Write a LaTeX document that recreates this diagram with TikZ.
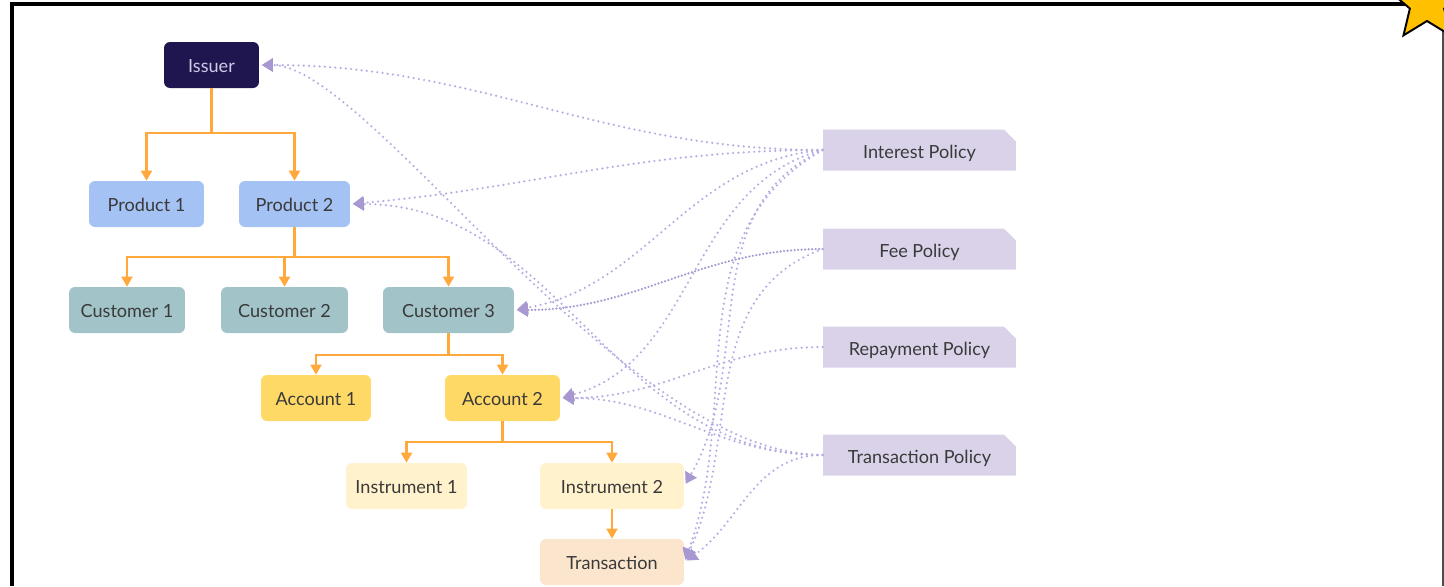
\documentclass[tikz,border=0pt]{standalone}
\usepackage{fontspec}
\setmainfont{Lato}
\usetikzlibrary{arrows.meta,shapes.misc}

\definecolor{issuerc}{HTML}{1F1650}
\definecolor{issuertxt}{HTML}{CFCAE6}
\definecolor{productc}{HTML}{A4C2F4}
\definecolor{customerc}{HTML}{A2C4C9}
\definecolor{accountc}{HTML}{FFD966}
\definecolor{instrc}{HTML}{FFF2CC}
\definecolor{transc}{HTML}{FCE5CD}
\definecolor{policyc}{HTML}{D9D2E9}
\definecolor{txt}{HTML}{3A3A3A}
\definecolor{treec}{HTML}{FFA83C}
\definecolor{linkc}{HTML}{B8ADE2}
\definecolor{linktip}{HTML}{A898D2}
\definecolor{starc}{HTML}{FFC000}

\begin{document}
\begin{tikzpicture}[x=0.02cm,y=0.02cm,
  box/.style={rounded corners=0.12cm, minimum height=0.92cm, inner sep=0pt,
    text height=8.4pt, text depth=0pt,
    font=\fontsize{10.3}{12}\selectfont, text=txt},
  issuerbox/.style={box, fill=issuerc, text=issuertxt, minimum width=1.9cm},
  productbox/.style={box, fill=productc},
  customerbox/.style={box, fill=customerc},
  accountbox/.style={box, fill=accountc},
  instrbox/.style={box, fill=instrc},
  transbox/.style={box, fill=transc},
  policybox/.style={chamfered rectangle, chamfered rectangle corners=north east,
    chamfered rectangle xsep=0.12cm, chamfered rectangle ysep=0.12cm,
    fill=policyc, minimum width=3.86cm, minimum height=0.82cm, inner sep=0pt,
    text height=9.4pt, text depth=0pt,
    font=\fontsize{10.3}{12}\selectfont, text=txt},
  tree/.style={draw=treec, line width=1.15pt,
    -{Triangle[length=0.2cm,width=0.22cm]}},
  link/.style={draw=linkc, line width=1.4pt, line cap=round,
    dash pattern=on 0pt off 3pt, shorten >=0.05cm,
    -{Triangle[length=0.22cm,width=0.26cm,fill=linktip,color=linktip]}},
  linkdense/.style={link, dash pattern=on 0pt off 2pt, draw=linktip},
]
\useasboundingbox (0,0) rectangle (1444,-586);

% frame
\draw[line width=2.5pt] (12,-586) -- (12,-4) -- (1420,-4);
\draw[line width=1.2pt, draw=black!70] (1443,-4) -- (1443,-586);
\draw[fill=starc, line width=1.1pt, shift={(1427,-3)}]
  (90:40) -- (126:18) -- (162:40) -- (198:18) -- (234:40) -- (270:18)
  -- (306:40) -- (342:18) -- (18:40) -- (54:18) -- cycle;

% hierarchy
\node[issuerbox] (issuer) at (211.5,-65) {Issuer};
\node[productbox, minimum width=2.3cm] (p1) at (146.5,-204) {Product 1};
\node[productbox, minimum width=2.22cm] (p2) at (294.5,-204) {Product 2};
\node[customerbox, minimum width=2.32cm] (c1) at (127,-310) {Customer 1};
\node[customerbox, minimum width=2.54cm] (c2) at (284.5,-310) {Customer 2};
\node[customerbox, minimum width=2.62cm] (c3) at (448.5,-310) {Customer 3};
\node[accountbox, minimum width=2.2cm] (a1) at (316,-398) {Account 1};
\node[accountbox, minimum width=2.3cm] (a2) at (502.5,-398) {Account 2};
\node[instrbox, minimum width=2.42cm] (i1) at (406.5,-486) {Instrument 1};
\node[instrbox, minimum width=2.88cm] (i2) at (612,-486) {Instrument 2};
\node[transbox, minimum width=2.88cm] (tx) at (612,-562) {Transaction};

% policies
\node[policybox] (ip) at (919.5,-150) {Interest Policy};
\node[policybox] (fp) at (919.5,-249) {Fee Policy};
\node[policybox] (rp) at (919.5,-347) {Repayment Policy};
\node[policybox] (tp) at (919.5,-455) {Transaction Policy};

% tree connectors
\draw[tree] (issuer.south) -- ++(0,-45) -| (p1.north);
\draw[tree] (issuer.south) -- ++(0,-45) -| (p2.north);
\draw[tree] (p2.south) -- ++(0,-30) -| (c1.north);
\draw[tree] (p2.south) -- ++(0,-30) -| (c2.north);
\draw[tree] (p2.south) -- ++(0,-30) -| (c3.north);
\draw[tree] (c3.south) -- ++(0,-22) -| (a1.north);
\draw[tree] (c3.south) -- ++(0,-22) -| (a2.north);
\draw[tree] (a2.south) -- ++(0,-21) -| (i1.north);
\draw[tree] (a2.south) -- ++(0,-21) -| (i2.north);
\draw[tree] (i2.south) -- (tx.north);

% policy links
\draw[link] (ip.west) to[out=180,in=0] (issuer.east);
\draw[link] (ip.west) to[out=180,in=5] (p2.east);
\draw[link] (ip.west) to[out=185,in=10] (c3.east);
\draw[link] (ip.west) to[out=195,in=15] (a2.east);
\draw[link] (ip.west) to[out=205,in=60] (i2.east);
\draw[link] (ip.west) to[out=210,in=70] (tx.east);
\draw[linkdense] (fp.west) to[out=180,in=0] (c3.east);
\draw[link] (fp.west) to[out=200,in=65] (tx.east);
\draw[link] (rp.west) to[out=180,in=0] (a2.east);
\draw[link] (tp.west) .. controls +(-200,0) and +(110,0) .. (issuer.east);
\draw[link] (tp.west) to[out=180,in=0] (p2.east);
\draw[link] (tp.west) to[out=180,in=0] (a2.east);
\draw[link] (tp.west) to[out=180,in=35] (tx.east);
\end{tikzpicture}
\end{document}
